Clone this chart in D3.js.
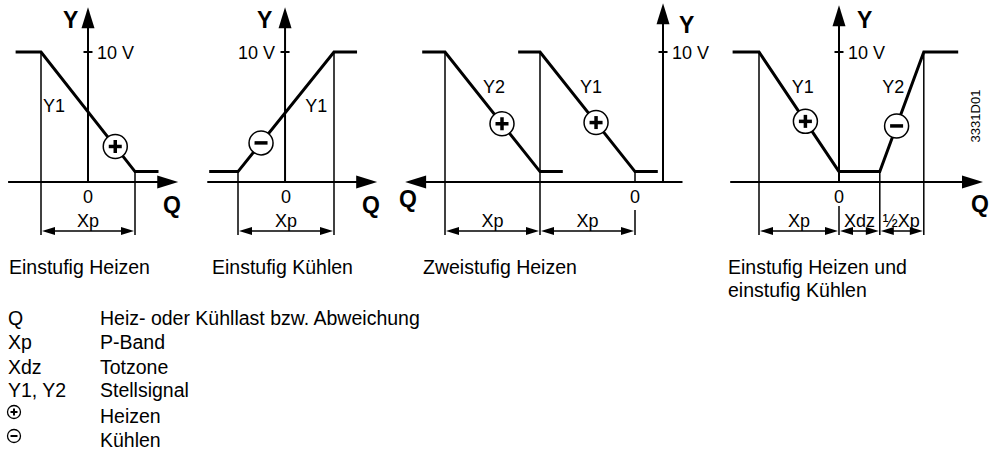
<!DOCTYPE html>
<html>
<head>
<meta charset="utf-8">
<script src="https://cdn.jsdelivr.net/npm/d3@7"></script>
<style>
  html, body { margin: 0; padding: 0; background: #fff; }
  svg { display: block; }
  text { font-family: "Liberation Sans", Arial, Helvetica, sans-serif; fill: #000; }
</style>
</head>
<body>
<svg id="chart" width="996" height="455"></svg>
<script>
// ---------------- DATA ----------------
const captions = ["Einstufig Heizen", "Einstufig Kühlen", "Zweistufig Heizen", "Einstufig Heizen und", "einstufig Kühlen"];
const yTickValue = 10;          // volts
const yTickLabel = "10 V";
const yLow = 0.8;               // lower plateau (V)

// curves: [Q, Y(V)]
const p1Y1 = [[-0.77, 10], [-0.5, 10], [0.5, 0.8], [0.75, 0.8]];
const p2Y1 = [[-0.8, 0.8], [-0.5, 0.8], [0.5, 10], [0.74, 10]];
const p3Y1 = [[-0.24, 0.8], [0, 0.8], [1, 10], [1.23, 10]];
const p3Y2 = [[0.76, 0.8], [1, 0.8], [2, 10], [2.24, 10]];
const p4Y1 = [[-1.33, 10], [-1, 10], [0, 0.8]];
const p4Y2 = [[0, 0.8], [0.51, 0.8], [1.06, 10], [1.49, 10]];

// markers: Q position on curve and sign
const p1Marks = [{ q: 0.29, s: "+" }];
const p2Marks = [{ q: -0.26, s: "-" }];
const p3Marks = [{ q: 0.41, s: "+", c: "Y1" }, { q: 1.4, s: "+", c: "Y2" }];
const p4Marks = [{ q: -0.42, s: "+", c: "Y1" }, { q: 0.72, s: "-", c: "Y2" }];

// dimension boundaries (Q) and labels
const p1Dims = [-0.5, 0.5];       const p1DimLabels = ["Xp"];
const p2Dims = [-0.5, 0.5];       const p2DimLabels = ["Xp"];
const p3Dims = [2, 1, 0];         const p3DimLabels = ["Xp", "Xp"];
const p4Dims = [-1, 0, 0.51, 1.06]; const p4DimLabels = ["Xp", "Xdz", "½Xp"];

// legend
const legendKeys = ["Q", "Xp", "Xdz", "Y1, Y2"];
const legendTexts = ["Heiz- oder Kühllast bzw. Abweichung", "P-Band", "Totzone", "Stellsignal"];
const symbolSigns = ["+", "-"];
const symbolTexts = ["Heizen", "Kühlen"];
const docId = "3331D01";

// ---------------- DRAW ----------------
const svg = d3.select("#chart");
const y = d3.scaleLinear().domain([0, 10]).range([182, 52]);
const axisY = y(0);
const dimY = 231, extBottom = 235;

function tri(g, tx, ty, dx, dy, len, half) {
  // tip at (tx,ty), pointing in direction (dx,dy)
  const bx = tx - dx * len, by = ty - dy * len;
  const px = -dy * half, py = dx * half;
  g.append("path")
    .attr("d", `M${tx},${ty}L${bx + px},${by + py}L${bx - px},${by - py}Z`)
    .attr("fill", "#000");
}

function vline(g, x, y1, y2, w) {
  g.append("line").attr("x1", x).attr("x2", x).attr("y1", y1).attr("y2", y2)
    .attr("stroke", "#000").attr("stroke-width", w || 1.5);
}

const line = (x) => d3.line().x(d => x(d[0])).y(d => y(d[1]));

function drawPanel(cfg) {
  const g = svg.append("g");
  const x = cfg.x;
  const ax = x(cfg.yAxisQ);
  // x axis
  const xa0 = x(cfg.xAxis[0]), xa1 = x(cfg.xAxis[1]);
  const dir = Math.sign(xa1 - xa0);
  g.append("line").attr("x1", xa0).attr("x2", xa1 - dir * 12).attr("y1", axisY).attr("y2", axisY)
    .attr("stroke", "#000").attr("stroke-width", 2);
  tri(g, xa1, axisY, dir, 0, 21, 6.5);
  // y axis
  const yTop = y(cfg.yAxisTop);
  g.append("line").attr("x1", ax).attr("x2", ax).attr("y1", axisY + 1).attr("y2", yTop + 12)
    .attr("stroke", "#000").attr("stroke-width", 2);
  tri(g, ax, yTop, 0, -1, 21, 6.5);
  // 10 V tick
  g.append("line").attr("x1", ax - 4.5).attr("x2", ax + 4.5).attr("y1", y(yTickValue)).attr("y2", y(yTickValue))
    .attr("stroke", "#000").attr("stroke-width", 2);
  g.append("text").attr("x", cfg.tickLeft ? ax - 10 : ax + 9).attr("y", y(yTickValue) + 6.5)
    .attr("text-anchor", cfg.tickLeft ? "end" : "start").style("font-size", "18px").text(yTickLabel);
  // axis letters
  g.append("text").attr("x", ax + cfg.yLab[0]).attr("y", cfg.yLab[1])
    .style("font-size", "23px").style("font-weight", "bold").text("Y");
  g.append("text").attr("x", cfg.qLab[0]).attr("y", cfg.qLab[1])
    .style("font-size", "23px").style("font-weight", "bold").text("Q");
  // zero label
  g.append("text").attr("x", x(0)).attr("y", 203).attr("text-anchor", "middle")
    .style("font-size", "18px").text("0");
  // extension lines
  cfg.ext.forEach(e => vline(g, x(e[0]), e[1], e[2]));
  // dimension arrows
  const b = cfg.dims;
  for (let i = 0; i < b.length - 1; i++) {
    const xa = x(b[i]), xb = x(b[i + 1]);
    const l = Math.min(xa, xb), r = Math.max(xa, xb);
    g.append("line").attr("x1", l + 6).attr("x2", r - 6).attr("y1", dimY).attr("y2", dimY)
      .attr("stroke", "#000").attr("stroke-width", 1.5);
    tri(g, l + 1, dimY, -1, 0, 13, 4);
    tri(g, r - 1, dimY, 1, 0, 13, 4);
    const lab = cfg.dimLabels[i];
    const t = g.append("text").attr("y", 227).style("font-size", "18px").text(lab);
    if (cfg.dimAnchor && cfg.dimAnchor[i] === "start") t.attr("x", l + cfg.dimOff[i]);
    else t.attr("x", (l + r) / 2).attr("text-anchor", "middle");
  }
  // curves
  cfg.curves.forEach(c => {
    g.append("path").attr("d", line(x)(c.pts)).attr("fill", "none")
      .attr("stroke", "#000").attr("stroke-width", 3).attr("stroke-linejoin", "miter");
    g.append("text").attr("x", x(c.lab[0])).attr("y", c.lab[1]).style("font-size", "18px").text(c.name);
  });
  // markers
  cfg.marks.forEach(m => {
    const pts = cfg.curves.find(c => c.name === m.c).pts;
    const interp = d3.scaleLinear().domain(pts.map(p => p[0])).range(pts.map(p => p[1]));
    const mx = x(m.q), my = y(interp(m.q));
    g.append("circle").attr("cx", mx).attr("cy", my).attr("r", 12)
      .attr("fill", "#fff").attr("stroke", "#000").attr("stroke-width", 1.5);
    g.append("line").attr("x1", mx - 6.5).attr("x2", mx + 6.5).attr("y1", my).attr("y2", my)
      .attr("stroke", "#000").attr("stroke-width", 3.5);
    if (m.s === "+") g.append("line").attr("x1", mx).attr("x2", mx).attr("y1", my - 6.5).attr("y2", my + 6.5)
      .attr("stroke", "#000").attr("stroke-width", 3.5);
  });
}

// Panel 1
{
  const x = d3.scaleLinear().domain([-0.5, 0.5]).range([41, 135]);
  drawPanel({
    x, yAxisQ: 0, xAxis: [-0.85, 0.96], yAxisTop: 13.45, yLab: [-25, 28], qLab: [163, 213],
    ext: [[-0.5, y(10), extBottom], [0.5, y(yLow), extBottom]],
    dims: p1Dims, dimLabels: p1DimLabels,
    curves: [{ name: "Y1", pts: p1Y1, lab: [-0.48, 112] }],
    marks: p1Marks.map(m => ({ ...m, c: "Y1" }))
  });
}
// Panel 2
{
  const x = d3.scaleLinear().domain([-0.5, 0.5]).range([238, 334]);
  drawPanel({
    x, yAxisQ: -0.01, xAxis: [-0.82, 0.95], yAxisTop: 13.45, yLab: [-28, 28], qLab: [362, 213], tickLeft: true,
    ext: [[-0.5, y(yLow), extBottom], [0.5, y(10), extBottom]],
    dims: p2Dims, dimLabels: p2DimLabels,
    curves: [{ name: "Y1", pts: p2Y1, lab: [0.2, 112] }],
    marks: p2Marks.map(m => ({ ...m, c: "Y1" }))
  });
}
// Panel 3 (Q axis reversed)
{
  const x = d3.scaleLinear().domain([0, 2]).range([635, 445]);
  drawPanel({
    x, yAxisQ: -0.295, xAxis: [-0.5, 2.42], yAxisTop: 13.75, yLab: [16, 33], qLab: [399, 207],
    ext: [[2, y(10), extBottom], [1, y(10), extBottom], [0, y(yLow), axisY], [0, 210, extBottom]],
    dims: p3Dims, dimLabels: p3DimLabels,
    curves: [{ name: "Y1", pts: p3Y1, lab: [0.58, 93] }, { name: "Y2", pts: p3Y2, lab: [1.6, 93] }],
    marks: p3Marks
  });
}
// Panel 4
{
  const x = d3.scaleLinear().domain([-1, 0]).range([759, 839]);
  drawPanel({
    x, yAxisQ: 0, xAxis: [-1.36, 1.8], yAxisTop: 13.6, yLab: [18, 28], qLab: [971, 212],
    ext: [[-1, y(10), extBottom], [0, 206, extBottom], [0.51, y(yLow), extBottom], [1.06, y(10), extBottom]],
    dims: p4Dims, dimLabels: p4DimLabels, dimAnchor: ["middle", "start", "start"], dimOff: [0, 5, 3],
    curves: [{ name: "Y1", pts: p4Y1, lab: [-0.59, 93] }, { name: "Y2", pts: p4Y2, lab: [0.54, 93] }],
    marks: p4Marks
  });
  svg.append("text").attr("transform", "translate(980,116) rotate(-90)").attr("text-anchor", "middle")
    .style("font-size", "13px").text(docId);
}

// captions
const capPos = [[9, 274], [212, 274], [423, 274], [728, 274], [728, 297]];
captions.forEach((c, i) => {
  svg.append("text").attr("x", capPos[i][0]).attr("y", capPos[i][1]).style("font-size", "19.5px").text(c);
});

// legend
const legBase = [325, 349, 374, 397];
legendKeys.forEach((k, i) => {
  svg.append("text").attr("x", 8).attr("y", legBase[i]).style("font-size", "19.5px").text(k);
  svg.append("text").attr("x", 100).attr("y", legBase[i]).style("font-size", "19.5px").text(legendTexts[i]);
});
const symY = [412, 436], symTextY = [423, 447];
symbolSigns.forEach((s, i) => {
  const cx = 14, cy = symY[i];
  svg.append("circle").attr("cx", cx).attr("cy", cy).attr("r", 6.5)
    .attr("fill", "#fff").attr("stroke", "#000").attr("stroke-width", 1.3);
  svg.append("line").attr("x1", cx - 3.5).attr("x2", cx + 3.5).attr("y1", cy).attr("y2", cy)
    .attr("stroke", "#000").attr("stroke-width", 2);
  if (s === "+") svg.append("line").attr("x1", cx).attr("x2", cx).attr("y1", cy - 3.5).attr("y2", cy + 3.5)
    .attr("stroke", "#000").attr("stroke-width", 2);
  svg.append("text").attr("x", 100).attr("y", symTextY[i]).style("font-size", "19.5px").text(symbolTexts[i]);
});
</script>
</body>
</html>
